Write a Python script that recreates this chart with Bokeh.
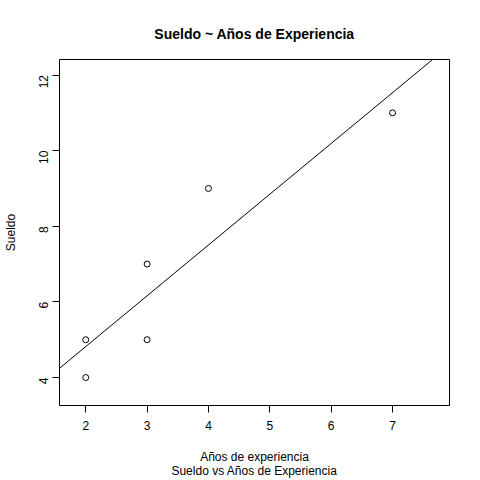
import math
import numpy as np
from bokeh.plotting import figure
from bokeh.models import Slope, Range1d, FixedTicker
from bokeh.embed import file_html
from bokeh.resources import INLINE

anios = [2, 3, 3, 2, 4, 7]
sueldo = [4, 5, 7, 5, 9, 11]
x_ticks = [2, 3, 4, 5, 6, 7]
y_ticks = [4, 6, 8, 10, 12]

slope, intercept = np.polyfit(anios, sueldo, 1)

FONT = "Liberation Sans"

p = figure(width=480, height=480, output_backend="svg", toolbar_location=None,
           x_range=Range1d(1.572, 7.928), y_range=Range1d(3.26, 12.41),
           min_border_left=59, min_border_right=31, min_border_top=59, min_border_bottom=74)

p.scatter(anios, sueldo, size=6, fill_color=None, line_color="black", line_width=1)
p.add_layout(Slope(gradient=slope, y_intercept=intercept, line_color="black", line_width=1))

p.grid.visible = False
p.outline_line_color = "black"
p.outline_line_width = 1
p.outline_line_alpha = 1

for ax in (p.xaxis[0], p.yaxis[0]):
    ax.axis_line_color = None
    ax.major_tick_out = 7
    ax.major_tick_in = 0
    ax.minor_tick_line_color = None
    ax.major_tick_line_color = "black"
    ax.major_label_text_font = FONT
    ax.major_label_text_font_size = "12px"
    ax.major_label_text_color = "black"
    ax.axis_label_text_font = FONT
    ax.axis_label_text_font_size = "12px"
    ax.axis_label_text_font_style = "normal"
    ax.axis_label_text_color = "black"

p.xaxis.ticker = FixedTicker(ticks=x_ticks)
p.yaxis.ticker = FixedTicker(ticks=y_ticks)
p.yaxis.major_label_orientation = math.pi / 2
p.xaxis.major_label_standoff = 8
p.yaxis.major_label_standoff = 9
p.xaxis.axis_label = "Años de experiencia\nSueldo vs Años de Experiencia"
p.yaxis.axis_label = "Sueldo"
p.xaxis.axis_label_standoff = 17
p.xaxis.axis_label_text_line_height = 1.0
p.yaxis.axis_label_standoff = 14

p.title.text = "Sueldo ~ Años de Experiencia"
p.title.align = "center"
p.title.text_font = FONT
p.title.text_font_size = "14px"
p.title.text_font_style = "bold"
p.title.text_color = "black"
p.title.standoff = 36

open("out.html", "w").write(file_html(p, INLINE))
